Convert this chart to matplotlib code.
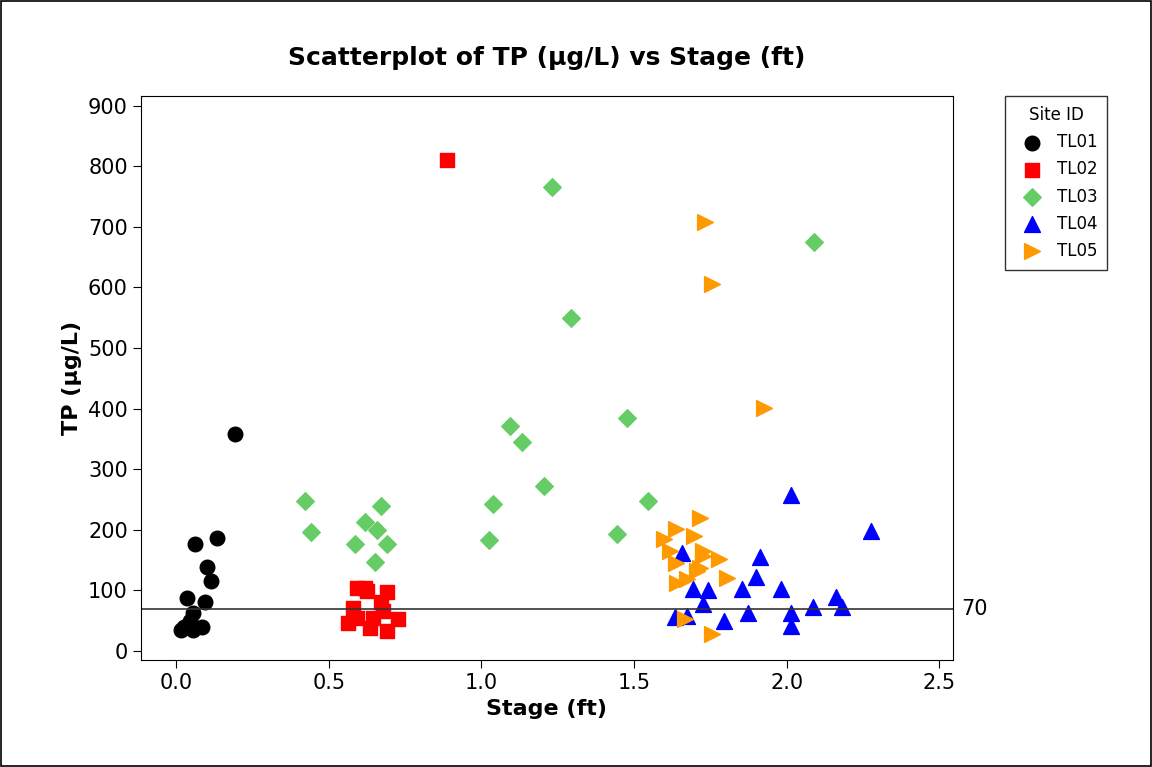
import matplotlib
matplotlib.use("agg")
import matplotlib.pyplot as plt

# Site data: stage (ft), TP (ug/L)
tl01_x = [0.193, 0.134, 0.062, 0.101, 0.115, 0.036, 0.095, 0.056, 0.016, 0.056, 0.085, 0.046, 0.025]
tl01_y = [358, 187, 177, 139, 116, 88, 81, 63, 35, 35, 40, 50, 40]
tl02_x = [0.887, 0.592, 0.69, 0.579, 0.625, 0.677, 0.726, 0.563, 0.635, 0.69, 0.645, 0.592, 0.62, 0.67]
tl02_y = [811, 104, 97, 71, 99, 66, 53, 46, 38, 33, 54, 54, 104, 80]
tl03_x = [1.23, 1.292, 2.09, 1.476, 1.093, 1.132, 1.204, 1.037, 1.024, 1.545, 1.443, 0.422, 0.442,
          0.671, 0.618, 0.658, 0.586, 0.69, 0.651]
tl03_y = [765, 550, 675, 385, 372, 345, 273, 243, 183, 248, 193, 248, 197,
          240, 213, 200, 177, 177, 147]
tl04_x = [2.277, 2.013, 1.656, 1.914, 1.901, 1.692, 1.744, 1.855, 1.98, 1.725, 2.163, 2.183, 2.085,
          1.633, 1.672, 1.796, 1.875, 2.013, 2.013]
tl04_y = [198, 257, 162, 155, 122, 102, 100, 102, 102, 78, 89, 73, 73,
          56, 58, 50, 63, 63, 41]
tl05_x = [1.731, 1.754, 1.927, 1.715, 1.636, 1.695, 1.597, 1.617, 1.725, 1.78, 1.636, 1.725, 1.715,
          1.705, 1.806, 1.64, 1.672, 1.666, 1.757]
tl05_y = [708, 606, 401, 220, 201, 190, 185, 165, 165, 152, 145, 157, 137,
          132, 121, 112, 119, 53, 28]
ref_line = 70

fig = plt.figure(figsize=(11.52, 7.67), dpi=100)
fig.patches.append(plt.Rectangle((0.001, 0.001), 0.998, 0.998, transform=fig.transFigure,
                                 fill=False, edgecolor="black", linewidth=1.2))
ax = fig.add_axes([141 / 1152, 1 - 660 / 767, (953 - 141) / 1152, (660 - 96) / 767])

ax.scatter(tl01_x, tl01_y, marker="o", s=110, color="black", label="TL01")
ax.scatter(tl02_x, tl02_y, marker="s", s=100, color="#ff0000", label="TL02")
ax.scatter(tl03_x, tl03_y, marker="D", s=80, color="#66cc66", label="TL03")
ax.scatter(tl04_x, tl04_y, marker="^", s=130, color="#0000ff", label="TL04")
ax.scatter(tl05_x, tl05_y, marker=">", s=130, color="#ff9900", label="TL05")
ax.axhline(ref_line, color="#333333", linewidth=1.2)
ax.text(1.01, ref_line, "70", transform=ax.get_yaxis_transform(), va="center", ha="left", fontsize=15)

ax.set_xlim(-0.115, 2.545)
ax.set_ylim(-15, 916)
ax.set_xticks([0.0, 0.5, 1.0, 1.5, 2.0, 2.5])
ax.set_xticklabels(["0.0", "0.5", "1.0", "1.5", "2.0", "2.5"])
ax.set_yticks(range(0, 901, 100))
ax.tick_params(labelsize=15, length=6)
ax.set_xlabel("Stage (ft)", fontsize=16, fontweight="bold")
ax.set_ylabel("TP (µg/L)", fontsize=16, fontweight="bold")
ax.set_title("Scatterplot of TP (µg/L) vs Stage (ft)", fontsize=18, fontweight="bold", pad=22)

leg = ax.legend(title="Site ID", loc="upper left", bbox_to_anchor=(1.064, 1.0), borderaxespad=0,
                fontsize=12, title_fontsize=12, frameon=True, fancybox=False, edgecolor="black",
                handletextpad=0.5, borderpad=0.6, labelspacing=0.55)
leg.get_frame().set_linewidth(1)

fig.savefig("out.png", dpi=100)
